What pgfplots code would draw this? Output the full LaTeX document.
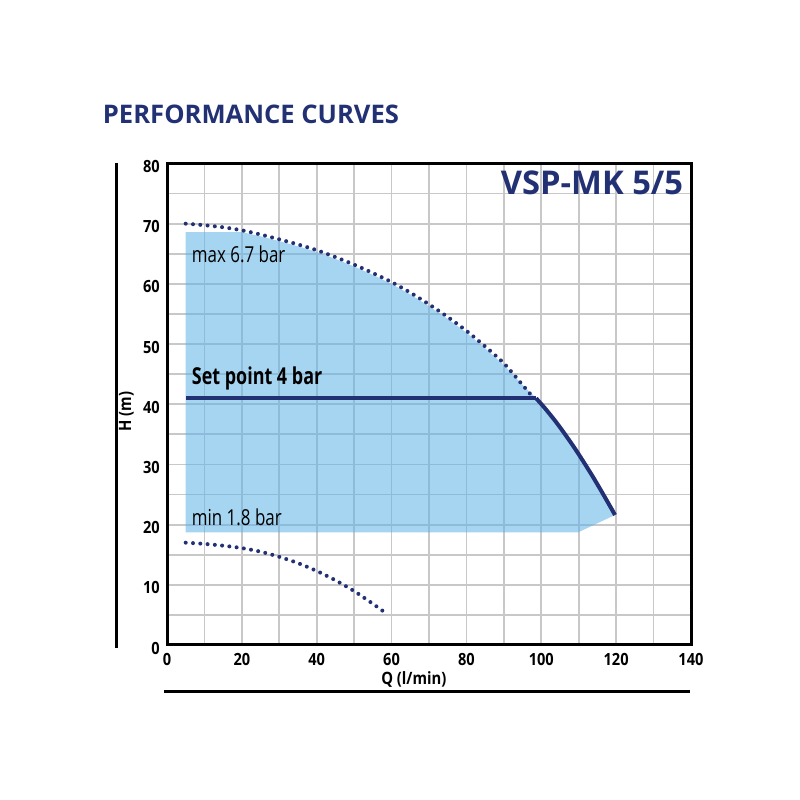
\documentclass[border=0pt]{standalone}
\usepackage{pgfplots}
\pgfplotsset{compat=1.18}
\usepackage{fontspec}
\setmainfont{Open Sans}
\newfontfamily\condA[FakeStretch=0.77]{Open Sans}
\newfontfamily\condB[FakeStretch=0.87]{Open Sans}
\definecolor{navy}{RGB}{34,48,116}
\definecolor{fillblue}{RGB}{93,178,231}
\definecolor{gridgray}{RGB}{200,200,200}
\begin{document}
\begin{tikzpicture}[x=1pt,y=1pt]
\path (0pt,0pt) rectangle (800pt,800pt);
\begin{axis}[
  at={(167pt,155pt)}, anchor=south west,
  scale only axis, width=524pt, height=481.5pt,
  xmin=0, xmax=140, ymin=0, ymax=80,
  xtick={0,20,...,140}, ytick={0,10,...,80},
  minor x tick num=1, minor y tick num=1,
  grid=both,
  major grid style={gridgray, line width=1.8pt},
  minor grid style={gridgray, line width=1.8pt},
  major tick length=0pt, minor tick length=0pt,
  axis line style={black, line width=3pt},
  /pgf/number format/assume math mode=true,
  tick label style={font=\condB\bfseries\fontsize{16.8}{18}\selectfont, inner sep=0pt},
  xticklabel style={yshift=-8pt},
  yticklabel style={xshift=-7pt, yshift=-3pt},
  label style={font=\condB\bfseries\fontsize{17}{19}\selectfont},
  xlabel={Q (l/min)},
  ylabel={H (m)},
  xlabel style={at={(axis description cs:0.471,0)}, anchor=center, yshift=-34pt},
  ylabel style={at={(axis description cs:0,0.485)}, anchor=center, yshift=40.5pt},
  clip=false,
]
% operating area
\addplot[draw=none, fill=fillblue, fill opacity=0.55] coordinates {
  (5,18.7) (5,68.6) (20,68.6) (25,67.9) (30,67.1) (35,66.25) (40,65.3)
  (45,64.15) (50,62.9) (55,61.5) (60,60.0) (65,58.25) (70,56.3) (75,54.2)
  (80,51.9) (85,49.3) (90,46.5) (95,43.2) (98.6,41.0) (101.0,39.32)
  (104.5,36.59) (109.0,32.63) (113.5,28.24) (117.0,24.55) (119.7,21.6)
  (109.8,18.7)
} -- cycle;
% max curve
\addplot[navy, smooth, line width=4pt, line cap=round, dash pattern=on 0pt off 7.3pt] coordinates {
  (5,70.0) (10,69.75) (15,69.4) (20,68.9) (25,68.2) (30,67.4) (35,66.55)
  (40,65.6) (45,64.45) (50,63.2) (55,61.8) (60,60.3) (65,58.55) (70,56.6)
  (75,54.5) (80,52.2) (85,49.6) (90,46.8) (95,43.2) (97.2,41.6)
};
% min curve
\addplot[navy, smooth, line width=4pt, line cap=round, dash pattern=on 0pt off 7.3pt] coordinates {
  (5,17.0) (10,16.8) (15,16.5) (20,16.1) (25,15.5) (30,14.65) (35,13.6)
  (40,12.3) (45,10.75) (50,8.95) (55,6.85) (58,5.5)
};
% set point
\addplot[navy, line width=4pt] coordinates {(5.1,41) (98.6,41)};
\addplot[navy, smooth, line width=4pt] coordinates {
  (98.6,41.0) (101.0,39.32) (104.5,36.59) (109.0,32.63) (113.5,28.24) (117.0,24.55) (119.7,21.6)
};
\node[anchor=base west, inner sep=0pt, font=\condA\fontsize{22}{24}\selectfont] at (axis cs:6.6,63.6) {max 6.7 bar};
\node[anchor=base west, inner sep=0pt, font=\condA\bfseries\fontsize{23.3}{25}\selectfont] at (axis cs:6.6,43.2) {Set point 4 bar};
\node[anchor=base west, inner sep=0pt, font=\condA\fontsize{22}{24}\selectfont] at (axis cs:6.6,19.8) {min 1.8 bar};
\end{axis}
\node[anchor=base east, inner sep=0pt, text=navy, font=\bfseries\fontsize{32.7}{34}\selectfont] at (683.3pt,605pt) {VSP-MK 5/5};
\node[anchor=base west, inner sep=0pt, text=navy, font=\bfseries\fontsize{25.6}{28}\selectfont] at (102.7pt,676.7pt) {PERFORMANCE CURVES};
\draw[black, line width=3pt] (116.7pt,637pt) -- (116.7pt,152pt);
\draw[black, line width=3pt] (164pt,108.3pt) -- (690pt,108.3pt);
\end{tikzpicture}
\end{document}
